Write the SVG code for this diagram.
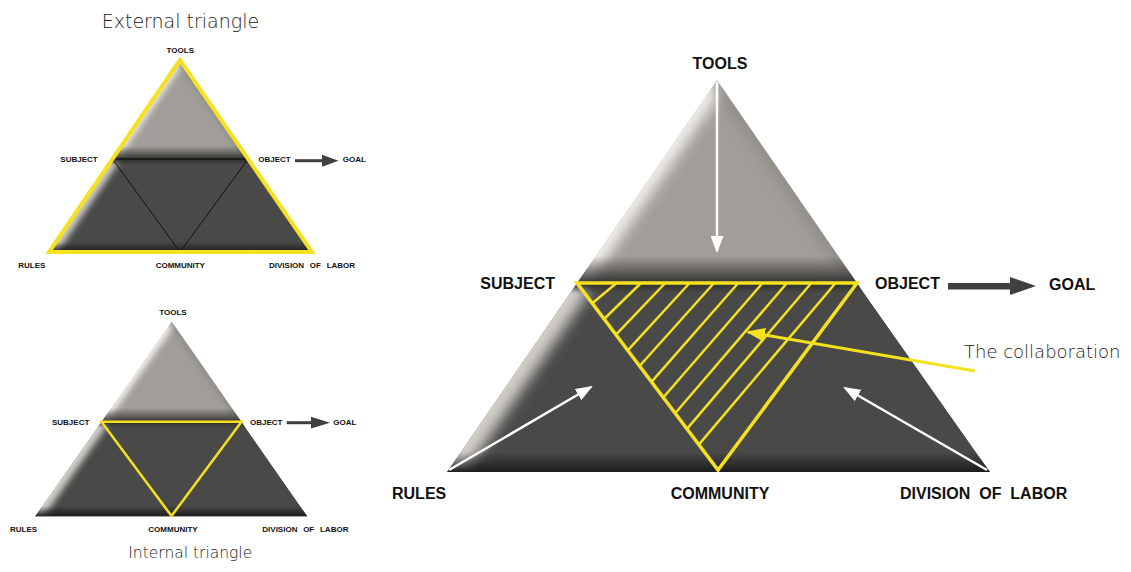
<svg xmlns="http://www.w3.org/2000/svg" width="1131" height="572" viewBox="0 0 1131 572">
<style>
.lbl{font-family:"Liberation Sans",Arial,sans-serif;font-weight:bold;fill:#111}
.big{font-size:16px}
.sm{font-size:8px}
.hand{font-family:"DejaVu Sans","Noto Sans",sans-serif;font-weight:200;fill:#222}
.gray{fill:#a19e99}
.dark{fill:#494947}
.yl{stroke:#f5e11f;fill:none}
.wa{stroke:#fff;stroke-width:2.5;fill:none}
.goal{fill:#404040}
</style>
<defs>
<filter id="b3" x="-50%" y="-50%" width="200%" height="200%"><feGaussianBlur stdDeviation="3"/></filter>
<filter id="b7" x="-50%" y="-50%" width="200%" height="200%"><feGaussianBlur stdDeviation="7"/></filter>
<linearGradient id="fadeDown" x1="0" y1="0" x2="0" y2="1"><stop offset="0" stop-color="#2e2d2b" stop-opacity="0"/><stop offset="1" stop-color="#2e2d2b" stop-opacity="0.95"/></linearGradient>
<linearGradient id="fadeUp" x1="0" y1="0" x2="0" y2="1"><stop offset="0" stop-color="#2a2a28" stop-opacity="0.9"/><stop offset="1" stop-color="#2a2a28" stop-opacity="0"/></linearGradient>
<linearGradient id="baseBand" x1="0" y1="0" x2="0" y2="1"><stop offset="0" stop-color="#1a1a1a" stop-opacity="0"/><stop offset="1" stop-color="#1a1a1a" stop-opacity="0.95"/></linearGradient>
<clipPath id="cTopM"><polygon points="717,80 577,283 857,283"/></clipPath>
<clipPath id="cBotM"><polygon points="577,283 857,283 990,472 447,472"/></clipPath>
<clipPath id="cTopE"><polygon points="180,60 112.45,159 248.06,159"/></clipPath>
<clipPath id="cBotE"><polygon points="112.45,159 248.06,159 312,252 49,252"/></clipPath>
<clipPath id="cTopI"><polygon points="171.7,321.5 101.46,421.7 241.5,421.7"/></clipPath>
<clipPath id="cBotI"><polygon points="101.46,421.7 241.5,421.7 307.5,516.5 35,516.5"/></clipPath>
<marker id="wHead" markerUnits="userSpaceOnUse" markerWidth="17" markerHeight="13" refX="15" refY="6.5" orient="auto"><path d="M0,0 L17,6.5 L0,13 z" fill="#fff"/></marker>
<marker id="yHead" markerUnits="userSpaceOnUse" markerWidth="19" markerHeight="14" refX="17" refY="7" orient="auto"><path d="M0,0 L19,7 L0,14 z" fill="#f5e11f"/></marker>
</defs>
<rect width="1131" height="572" fill="#fff"/>

<!-- External triangle (top-left) -->
<g id="external-triangle">
<g clip-path="url(#cTopE)">
<polygon class="gray" points="180,60 112.45,159 248.06,159"/>
<line x1="180" y1="60" x2="112.45" y2="159" stroke="#f4f2ee" stroke-width="9" filter="url(#b3)"/>
<line x1="180" y1="60" x2="248.06" y2="159" stroke="#8c8984" stroke-width="6" filter="url(#b3)"/>
<rect x="100" y="146" width="160" height="13" fill="url(#fadeDown)"/>
</g>
<g clip-path="url(#cBotE)">
<polygon class="dark" points="112.45,159 248.06,159 312,252 49,252"/>
<line x1="112.45" y1="159" x2="49" y2="252" stroke="#d2cfc9" stroke-width="14" filter="url(#b3)"/>
<rect x="40" y="159" width="280" height="6" fill="url(#fadeUp)"/>
<rect x="40" y="242" width="280" height="10" fill="url(#baseBand)"/>
</g>
<line x1="112.45" y1="159" x2="248.06" y2="159" stroke="#1c1c1c" stroke-width="2"/>
<polyline points="112.45,159 180,252 248.06,159" fill="none" stroke="#111" stroke-width="1"/>
<polygon class="yl" points="180,60 49,252 312,252" stroke-width="4"/>
<text class="hand" x="101.7" y="28" font-size="19">External triangle</text>
<text class="lbl sm" x="180.3" y="52.7" text-anchor="middle">TOOLS</text>
<text class="lbl sm" x="97.7" y="161.7" text-anchor="end">SUBJECT</text>
<text class="lbl sm" x="258.3" y="161.7">OBJECT</text>
<text class="lbl sm" x="342.7" y="161.7">GOAL</text>
<text class="lbl sm" x="18.3" y="268">RULES</text>
<text class="lbl sm" x="180.3" y="268" text-anchor="middle">COMMUNITY</text>
<text class="lbl sm" x="269" y="268" word-spacing="3.5">DIVISION OF LABOR</text>
</g>

<!-- Internal triangle (bottom-left) -->
<g id="internal-triangle">
<g clip-path="url(#cTopI)">
<polygon class="gray" points="171.7,321.5 101.46,421.7 241.5,421.7"/>
<line x1="171.7" y1="321.5" x2="101.46" y2="421.7" stroke="#f4f2ee" stroke-width="9" filter="url(#b3)"/>
<line x1="171.7" y1="321.5" x2="241.5" y2="421.7" stroke="#8c8984" stroke-width="6" filter="url(#b3)"/>
<rect x="90" y="408" width="160" height="14" fill="url(#fadeDown)"/>
</g>
<g clip-path="url(#cBotI)">
<polygon class="dark" points="101.46,421.7 241.5,421.7 307.5,516.5 35,516.5"/>
<line x1="101.46" y1="421.7" x2="35" y2="516.5" stroke="#d2cfc9" stroke-width="14" filter="url(#b3)"/>
<rect x="30" y="421.7" width="280" height="6" fill="url(#fadeUp)"/>
<rect x="30" y="506" width="280" height="10.5" fill="url(#baseBand)"/>
</g>
<polygon class="yl" points="101.46,421.7 241.5,421.7 171.5,516" stroke-width="2.5"/>
<text class="lbl sm" x="173" y="315" text-anchor="middle">TOOLS</text>
<text class="lbl sm" x="89.3" y="425" text-anchor="end">SUBJECT</text>
<text class="lbl sm" x="250" y="425">OBJECT</text>
<text class="lbl sm" x="333.3" y="425">GOAL</text>
<text class="lbl sm" x="10" y="531.7">RULES</text>
<text class="lbl sm" x="173" y="531.7" text-anchor="middle">COMMUNITY</text>
<text class="lbl sm" x="262.3" y="531.7" word-spacing="3.5">DIVISION OF LABOR</text>
<text class="hand" x="128.3" y="558" font-size="15.5">Internal triangle</text>
</g>

<!-- Main triangle (right) -->
<g id="main-triangle">
<g clip-path="url(#cTopM)">
<polygon class="gray" points="717,80 577,283 857,283"/>
<line x1="717" y1="80" x2="577" y2="283" stroke="#f4f2ee" stroke-width="20" filter="url(#b7)"/>
<line x1="717" y1="80" x2="857" y2="283" stroke="#8c8984" stroke-width="12" filter="url(#b7)"/>
<rect x="560" y="256" width="310" height="27" fill="url(#fadeDown)"/>
</g>
<g clip-path="url(#cBotM)">
<polygon class="dark" points="577,283 857,283 990,472 447,472"/>
<line x1="577" y1="283" x2="447" y2="472" stroke="#d2cfc9" stroke-width="30" filter="url(#b7)"/>
<rect x="440" y="283" width="560" height="10" fill="url(#fadeUp)"/>
<rect x="440" y="452" width="560" height="20" fill="url(#baseBand)"/>
</g>
</g>

<g id="collaboration">
<g class="yl" stroke-width="2.5">
<line x1="616.7" y1="283" x2="592.3" y2="303.3"/>
<line x1="641" y1="283" x2="604.1" y2="319"/>
<line x1="665.3" y1="283" x2="616" y2="334.7"/>
<line x1="689.6" y1="283" x2="627.8" y2="350.4"/>
<line x1="714" y1="283" x2="639.6" y2="366"/>
<line x1="738.3" y1="283" x2="651.5" y2="381.8"/>
<line x1="762.6" y1="283" x2="663.3" y2="397.5"/>
<line x1="787" y1="283" x2="675.2" y2="413.2"/>
<line x1="811.3" y1="283" x2="687" y2="428.9"/>
<line x1="835.6" y1="283" x2="698.8" y2="444.6"/>
</g>
<polygon class="yl" points="577,283 857,283 718,470" stroke-width="3.5" stroke-linejoin="miter"/>
<text class="hand" x="964" y="358" font-size="18">The collaboration</text>
</g>

<g id="main-labels">
<text class="lbl big" x="720" y="69.3" text-anchor="middle">TOOLS</text>
<text class="lbl big" x="555" y="289" text-anchor="end">SUBJECT</text>
<text class="lbl big" x="875" y="289">OBJECT</text>
<text class="lbl big" x="1049" y="290">GOAL</text>
<text class="lbl big" x="392" y="499">RULES</text>
<text class="lbl big" x="720" y="499" text-anchor="middle">COMMUNITY</text>
<text class="lbl big" x="900" y="499" word-spacing="4.5">DIVISION OF LABOR</text>
</g>

<g id="connectors">
<line class="wa" x1="717" y1="82" x2="717" y2="251" marker-end="url(#wHead)"/>
<line class="wa" x1="449" y1="470" x2="591" y2="387" marker-end="url(#wHead)"/>
<line class="wa" x1="987" y1="470" x2="845" y2="388" marker-end="url(#wHead)"/>
<line x1="975" y1="371" x2="748" y2="332" stroke="#f5e11f" stroke-width="3" marker-end="url(#yHead)"/>
<rect class="goal" x="948" y="283" width="64" height="6.5"/>
<polygon class="goal" points="1010,277 1036,286 1010,295"/>
<rect class="goal" x="295" y="159.2" width="28" height="3"/>
<polygon class="goal" points="322,154.7 338.5,160.7 322,166.7"/>
<rect class="goal" x="286.7" y="421.2" width="26" height="3"/>
<polygon class="goal" points="311,416.8 330,422.7 311,428.6"/>
</g>
</svg>
